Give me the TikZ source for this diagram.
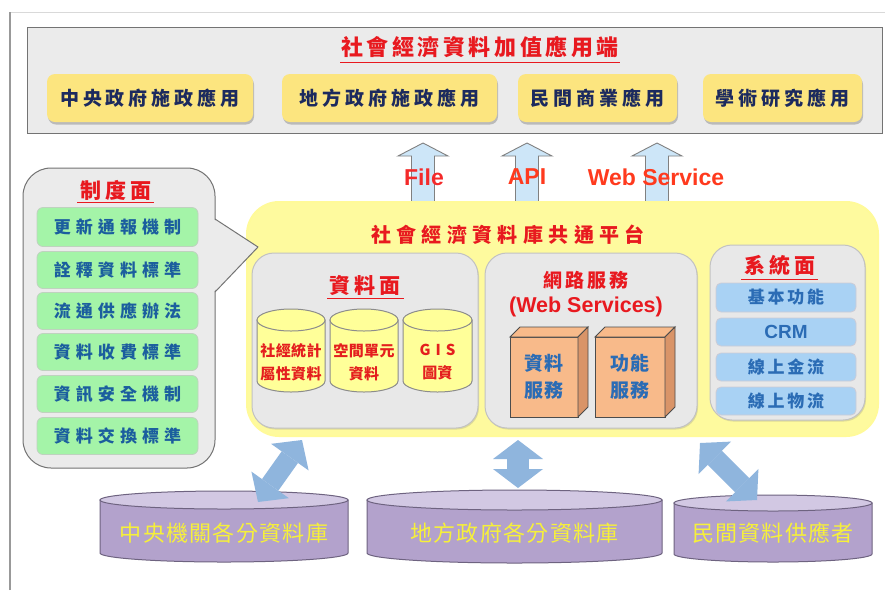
\documentclass[tikz,border=0pt]{standalone}
\usepackage{fontspec}
\setmainfont{Liberation Sans}
\newfontfamily\cjk{Noto Sans CJK TC}
\usetikzlibrary{arrows.meta,shadows}

\definecolor{titlered}{HTML}{E8191F}
\definecolor{navy}{HTML}{1C2A5E}
\definecolor{appyellow}{HTML}{FCE57F}
\definecolor{panelgray}{HTML}{E8E8E8}
\definecolor{panelline}{HTML}{C2C2C2}
\definecolor{topgray}{HTML}{EBEBEB}
\definecolor{rulegreen}{HTML}{A4F4A8}
\definecolor{ruleblue}{HTML}{1B5E9E}
\definecolor{platyellow}{HTML}{FEFA9E}
\definecolor{cylyellow}{HTML}{FFFF99}
\definecolor{boxorange}{HTML}{F8BA8A}
\definecolor{boxside}{HTML}{D99468}
\definecolor{boxblue}{HTML}{2B6CB5}
\definecolor{sysblue}{HTML}{A9D2F4}
\definecolor{dbpurple}{HTML}{B3A2CC}
\definecolor{dbtop}{HTML}{D2C8E3}
\definecolor{dbline}{HTML}{6E6380}
\definecolor{dbtext}{HTML}{F6F03A}
\definecolor{arrowblue}{HTML}{8FB5DD}
\definecolor{uparrowfill}{HTML}{CDE6F8}
\definecolor{labelred}{HTML}{FF3A1E}
\definecolor{filered}{HTML}{F42A2A}
\definecolor{cyltext}{HTML}{E41E1E}

\newcommand\zhf[4]{\cjk#4\fontsize{#1}{#2}\selectfont\addfontfeature{LetterSpace=#3}}
\newcommand\enf[1]{\bfseries\fontsize{#1}{#1}\selectfont}
\newcommand\drawcyl[8]{%
  \filldraw[fill=#6,draw=#8,line width=1pt] (#1,#3) -- (#1,#4)
     arc[start angle=180,end angle=0,x radius={(#2-#1)/2},y radius=#5] -- (#2,#3) -- cycle;
  \filldraw[fill=#7,draw=#8,line width=1pt] ({(#1+#2)/2},#3) ellipse[x radius={(#2-#1)/2},y radius=#5];}
\newcommand\myuparrow[1]{%
  \filldraw[upar] (#1-11.5,203) -- (#1-11.5,156) -- (#1-25,156) -- (#1,143)
     -- (#1+25,156) -- (#1+11.5,156) -- (#1+11.5,203);}
\newcommand\myboxthreed[4]{%
  \filldraw[boxface] (#1,#2) rectangle (#3,#4);
  \filldraw[boxface] (#1,#2) -- (#1+10,#2-10) -- (#3+10,#2-10) -- (#3,#2) -- cycle;
  \filldraw[boxsideface] (#3,#2) -- (#3+10,#2-10) -- (#3+10,#4-10) -- (#3,#4) -- cycle;}

\tikzset{
  topbox/.style={draw=black!55,fill=topgray,line width=1pt,inner sep=0pt,anchor=north west},
  apptitle/.style={font=\zhf{22}{26}{16}{\bfseries},text=titlered,inner sep=0pt},
  redtitle/.style={font=\zhf{21}{24}{17}{\bfseries},text=titlered,inner sep=0pt},
  uline/.style={draw=titlered,line width=1pt},
  appbox/.style={fill=appyellow,rounded corners=8pt,minimum height=48pt,inner sep=0pt,
     font=\zhf{19}{19}{21}{\bfseries},text=navy,
     drop shadow={shadow xshift=1pt,shadow yshift=-2.5pt,opacity=.45}},
  upar/.style={fill=uparrowfill,draw=black!50,line width=0.9pt},
  uplabel/.style={font=\enf{23},inner sep=0pt},
  callout/.style={fill=topgray,draw=black!55,line width=1pt,rounded corners=28pt,inner sep=0pt},
  rulebox/.style={fill=rulegreen,draw=green!30!black!25,line width=0.8pt,rounded corners=6pt,
     minimum width=161pt,minimum height=37pt,inner sep=0pt,
     font=\zhf{17}{17}{30}{\bfseries},text=ruleblue},
  platform/.style={fill=platyellow,draw=yellow!40,line width=2pt,rounded corners=32pt,inner sep=0pt},
  panel/.style={fill=panelgray,draw=panelline,line width=1pt,rounded corners=22pt,inner sep=0pt,
     drop shadow={shadow xshift=1pt,shadow yshift=-1.5pt,opacity=.25}},
  cyllabel/.style={font=\zhf{15}{23}{3}{\bfseries},text=cyltext,align=center,inner sep=0pt},
  boxface/.style={fill=boxorange,draw=black!70,line width=0.9pt},
  boxsideface/.style={fill=boxside,draw=black!70,line width=0.9pt},
  boxlabel/.style={font=\zhf{19}{27}{10}{\bfseries},text=boxblue,align=center,inner sep=0pt},
  sysbox/.style={fill=sysblue,draw=blue!20!black!20,line width=0.8pt,rounded corners=5pt,
     minimum width=140pt,minimum height=28pt,inner sep=0pt,
     font=\zhf{17}{17}{16}{\bfseries},text=boxblue},
  dblabel/.style={font=\zhf{22}{22}{6}{\mdseries},text=dbtext,inner sep=0pt},
  dbarrow/.style={draw=arrowblue,line width=20pt,
     {Triangle[length=21pt 0 0,width=46pt 0 0,line width=0pt 0 0]}-{Triangle[length=21pt 0 0,width=46pt 0 0,line width=0pt 0 0]}},
  dbarrowv/.style={draw=arrowblue,line width=22pt,
     {Triangle[length=19pt 0 0,width=50pt 0 0,line width=0pt 0 0]}-{Triangle[length=19pt 0 0,width=50pt 0 0,line width=0pt 0 0]}},
}

\begin{document}
\begin{tikzpicture}[x=1pt,y=-1pt]
\useasboundingbox (0,0) rectangle (885,590);
\fill[white] (0,0) rectangle (885,590);
% outer frame
\draw[black!15,line width=1pt] (10,12) -- (885,12);
\draw[black!40,line width=1.5pt] (10,590) -- (10,12);

% top application area
\node[topbox,minimum width=855pt,minimum height=106pt] (apps) at (27,27) {};
\node[apptitle] (ttl) at (480,47) {社會經濟資料加值應用端};
\draw[uline] (340,62) -- (620,62);
\node[appbox,minimum width=206pt] (app1) at (150,98) {中央政府施政應用};
\node[appbox,minimum width=215pt] (app2) at (389.5,98) {地方政府施政應用};
\node[appbox,minimum width=159pt] (app3) at (597.5,98) {民間商業應用};
\node[appbox,minimum width=159pt] (app4) at (782.5,98) {學術研究應用};

% up arrows
\myuparrow{423}
\myuparrow{527}
\myuparrow{657}

% platform
\node[platform,minimum width=631pt,minimum height=234pt] (plat) at (562.5,319) {};
\node[uplabel,text=filered] (lfile) at (424,177) {File};
\node[uplabel,text=labelred] (lapi) at (527,177) {API};
\node[uplabel,text=labelred] (lws) at (656,177) {Web Service};
\node[font=\zhf{20}{20}{27}{\bfseries},text=titlered,inner sep=0pt] (ptitle) at (508,235) {社會經濟資料庫共通平台};

% data panel
\node[panel,minimum width=226pt,minimum height=175pt] (datap) at (365,340.5) {};
\node[redtitle] (dtitle) at (365,285) {資料面};
\draw[uline] (327,298) -- (404,298);
\drawcyl{257}{325}{320}{381}{11}{cylyellow}{cylyellow}{black!45}
\drawcyl{330}{398}{320}{381}{11}{cylyellow}{cylyellow}{black!45}
\drawcyl{403}{472}{320}{381}{11}{cylyellow}{cylyellow}{black!45}
\node[cyllabel] (c1) at (291,362) {社經統計\\屬性資料};
\node[cyllabel] (c2) at (364,362) {空間單元\\資料};
\node[cyllabel] (c3) at (437.5,362) {G\hspace{5pt}I\hspace{5pt}S\\圖資};

% web services panel
\node[panel,minimum width=212pt,minimum height=175pt] (webp) at (591,340.5) {};
\node[font=\zhf{19}{19}{15}{\bfseries},text=titlered,inner sep=0pt] (wtitle) at (586,280) {網路服務};
\node[font=\enf{21.5},text=titlered,inner sep=0pt] (wsub) at (586,307) {(Web Services)};
\myboxthreed{510}{337}{578}{417}
\myboxthreed{595}{337}{665}{417}
\node[boxlabel] (svc1) at (544,377) {資料\\服務};
\node[boxlabel] (svc2) at (630,377) {功能\\服務};

% system panel
\node[panel,minimum width=155pt,minimum height=175pt] (sysp) at (787.5,332.5) {};
\node[redtitle] (stitle) at (780,265) {系統面};
\draw[uline] (741,279) -- (818,279);
\node[sysbox,minimum height=29pt] (s1) at (786,297.5) {基本功能};
\node[sysbox,font=\enf{19}] (s2) at (786,332) {CRM};
\node[sysbox] (s3) at (786,367) {線上金流};
\node[sysbox] (s4) at (786,401) {線上物流};

% left callout
\node[callout,minimum width=192pt,minimum height=300pt] (rules) at (119,318) {};
\fill[topgray] (213.5,219) -- (258,247) -- (213.5,292) -- cycle;
\draw[black!55,line width=1pt,line join=round] (215,219) -- (258,247) -- (215,292);
\node[redtitle] (rtitle) at (116,190) {制度面};
\draw[uline] (77,202) -- (154,202);
\node[rulebox,minimum height=39pt] (r1) at (117.5,227) {更新通報機制};
\node[rulebox] (r2) at (117.5,270) {詮釋資料標準};
\node[rulebox] (r3) at (117.5,311) {流通供應辦法};
\node[rulebox] (r4) at (117.5,352) {資料收費標準};
\node[rulebox] (r5) at (117.5,394) {資訊安全機制};
\node[rulebox] (r6) at (117.5,436) {資料交換標準};

% databases
\drawcyl{100}{348}{500}{553}{9}{dbpurple}{dbtop}{dbline}
\drawcyl{367}{662}{500}{553}{10}{dbpurple}{dbtop}{dbline}
\drawcyl{674}{872}{503}{554}{8}{dbpurple}{dbtop}{dbline}
\node[dblabel] (db1) at (224,533) {中央機關各分資料庫};
\node[dblabel] (db2) at (514.5,533) {地方政府各分資料庫};
\node[dblabel] (db3) at (773,533) {民間資料供應者};

% exchange arrows
\coordinate (a1s) at (258,502);
\coordinate (a1e) at (302,440);
\coordinate (a2s) at (518,488);
\coordinate (a2e) at (518,440);
\coordinate (a3s) at (757,500);
\coordinate (a3e) at (700,443);
\draw[dbarrow] (a1s) -- (a1e);
\draw[dbarrowv] (a2s) -- (a2e);
\draw[dbarrow] (a3s) -- (a3e);
\end{tikzpicture}
\end{document}
